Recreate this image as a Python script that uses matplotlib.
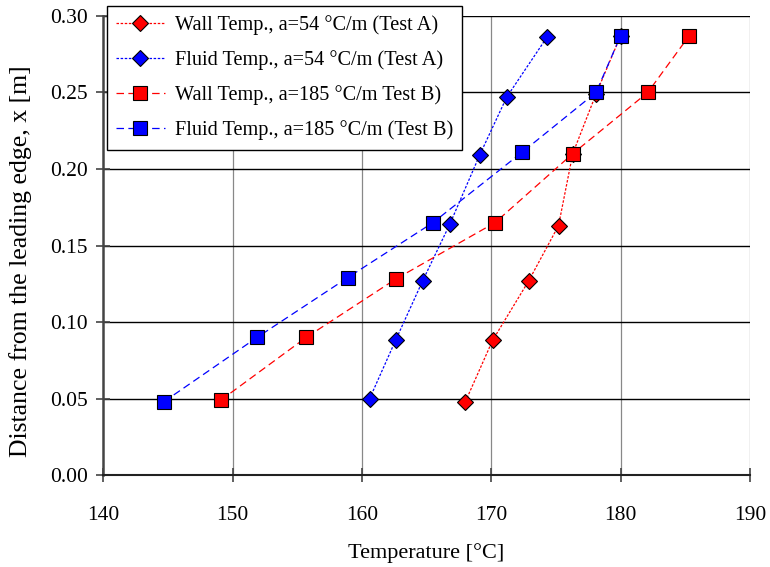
import matplotlib
matplotlib.use("Agg")
import matplotlib.pyplot as plt

plt.rcParams['font.family'] = ['Liberation Serif', 'DejaVu Serif']

# Test A (a=54 °C/m)
x_a = [0.048, 0.088, 0.127, 0.163, 0.210, 0.249, 0.287]
wall_a = [168.0, 170.1, 172.9, 175.2, 176.3, 178.1, 180.0]
x_a_fluid = [0.050, 0.088, 0.127, 0.164, 0.209, 0.247, 0.286]
fluid_a = [160.6, 162.6, 164.7, 166.8, 169.1, 171.2, 174.3]

# Test B (a=185 °C/m)
x_b_wall = [0.049, 0.090, 0.128, 0.165, 0.210, 0.250, 0.287]
wall_b = [149.1, 155.7, 162.6, 170.3, 176.3, 182.1, 185.3]
x_b_fluid = [0.048, 0.090, 0.129, 0.165, 0.211, 0.250, 0.287]
fluid_b = [144.7, 151.9, 158.9, 165.5, 172.4, 178.1, 180.0]

labels = ["Wall Temp., a=54 °C/m (Test A)",
          "Fluid Temp., a=54 °C/m (Test A)",
          "Wall Temp., a=185 °C/m Test B)",
          "Fluid Temp., a=185 °C/m (Test B)"]

fig = plt.figure(figsize=(7.7, 5.67), dpi=100)
ax = fig.add_axes([0.134, 0.162, 0.84, 0.81])

dot = (0, (2, 1.3))
dash = (0, (6, 3.5))
ax.plot(wall_a, x_a, color='red', ls=dot, lw=0.9, marker='D', ms=8.5,
        mfc='red', mec='black', mew=0.8, label=labels[0], zorder=3)
ax.plot(fluid_a, x_a_fluid, color='blue', ls=dot, lw=0.9, marker='D', ms=8.5,
        mfc='blue', mec='black', mew=0.8, label=labels[1], zorder=3)
ax.plot(wall_b, x_b_wall, color='red', ls=dash, lw=0.9, marker='s', ms=10,
        mfc='red', mec='black', mew=0.8, label=labels[2], zorder=4)
ax.plot(fluid_b, x_b_fluid, color='blue', ls=dash, lw=0.9, marker='s', ms=10,
        mfc='blue', mec='black', mew=0.8, label=labels[3], zorder=4)

ax.set_xlim(140, 190)
ax.set_ylim(0, 0.30)
ax.set_xticks([140, 150, 160, 170, 180, 190])
ax.set_yticks([0.0, 0.05, 0.10, 0.15, 0.20, 0.25, 0.30])
ax.set_yticklabels([f"{v:.2f}" for v in ax.get_yticks()])
ax.tick_params(labelsize=15.5, direction='inout', length=10, width=1.2, color='#444444')
ax.tick_params(axis='x', pad=17)
ax.tick_params(axis='y', pad=6)

for v in [150, 160, 170, 180, 190]:
    ax.axvline(v, color='#888888', lw=0.9, zorder=1)
for v in [0.05, 0.10, 0.15, 0.20, 0.25, 0.30]:
    ax.axhline(v, color='black', lw=1.0, zorder=1)

for s in ['top', 'right']:
    ax.spines[s].set_visible(False)
ax.spines['left'].set_color('#444444')
ax.spines['left'].set_linewidth(1.8)
ax.spines['bottom'].set_color('#222222')
ax.spines['bottom'].set_linewidth(1.5)

ax.set_xlabel("Temperature [°C]", fontsize=16, labelpad=13)
ax.set_ylabel("Distance from the leading edge, x [m]", fontsize=18.5)
ax.yaxis.set_label_coords(-0.11, 0.466)

leg = ax.legend(loc='upper left', bbox_to_anchor=(107 / 770, 1 - 6 / 567),
                bbox_transform=fig.transFigure, borderaxespad=0, fontsize=14.6,
                frameon=True, fancybox=False, edgecolor='black', framealpha=1,
                handlelength=2.4, handletextpad=0.5, labelspacing=0.75,
                borderpad=0.45)
leg.get_frame().set_linewidth(1.0)
leg.set_zorder(10)

fig.savefig("out.png", dpi=100)
